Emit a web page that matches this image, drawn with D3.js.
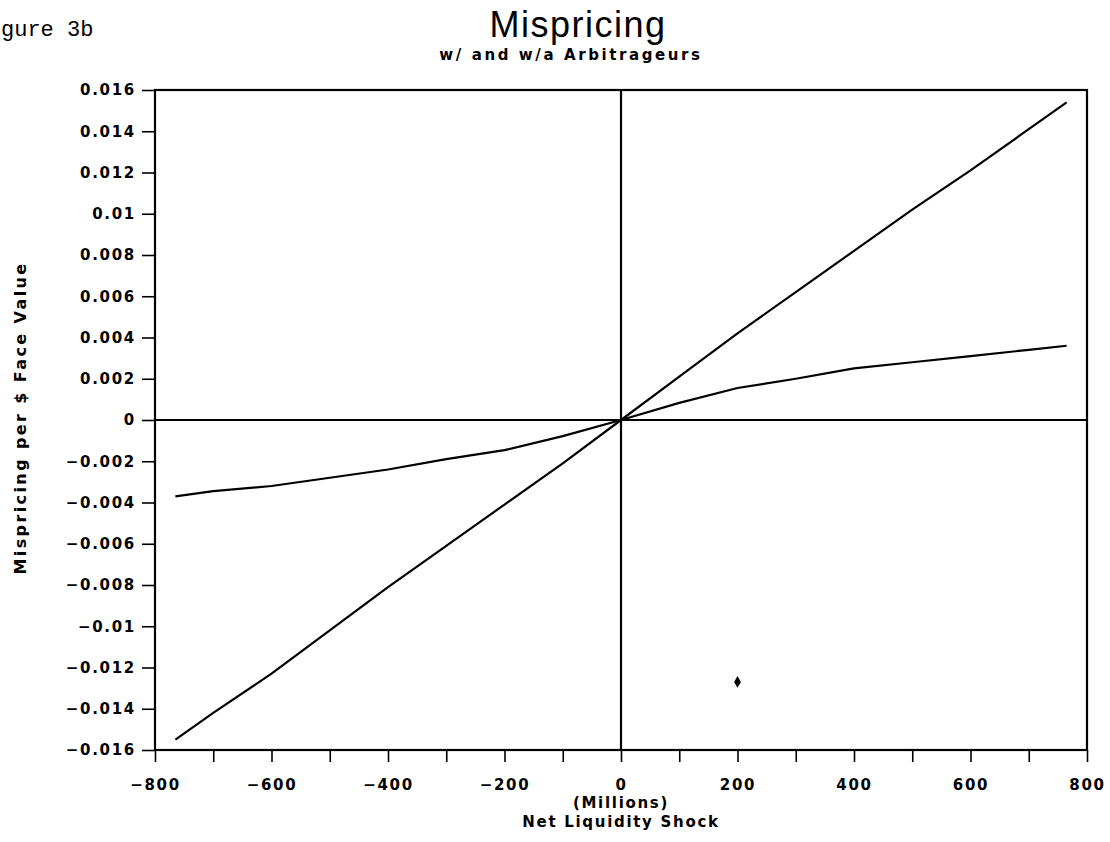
<!DOCTYPE html>
<html><head><meta charset="utf-8">
<script src="https://cdn.jsdelivr.net/npm/d3@7"></script>
<style>
body{margin:0;background:#fff;}
svg{display:block;}
.lbl{font-family:"DejaVu Sans",sans-serif;font-weight:bold;font-size:15px;letter-spacing:1.7px;fill:#000;}
</style></head><body>
<svg id="c" width="1110" height="842"></svg>
<script>
// ---- data ----
const shock = [-765,-700,-600,-500,-400,-300,-200,-100,0,100,200,300,400,500,600,700,765];
const withoutArb = [-0.0155,-0.0142,-0.0123,-0.0102,-0.0081,-0.0061,-0.0041,-0.0021,0,0.0021,0.0042,0.0062,0.0082,0.0102,0.0121,0.0141,0.0154];
const withArb = [-0.0037,-0.00345,-0.0032,-0.0028,-0.0024,-0.0019,-0.00146,-0.00078,0,0.00083,0.00155,0.002,0.0025,0.0028,0.0031,0.0034,0.0036];
const strayPoint = [{x:200, y:-0.0127}];
const xTicks = [-800,-700,-600,-500,-400,-300,-200,-100,0,100,200,300,400,500,600,700,800];
const xTickLabels = {"-800":"−800","-600":"−600","-400":"−400","-200":"−200","0":"0","200":"200","400":"400","600":"600","800":"800"};
const yTicks = [0.016,0.014,0.012,0.01,0.008,0.006,0.004,0.002,0,-0.002,-0.004,-0.006,-0.008,-0.01,-0.012,-0.014,-0.016];
const yTickLabels = ["0.016","0.014","0.012","0.01","0.008","0.006","0.004","0.002","0","−0.002","−0.004","−0.006","−0.008","−0.01","−0.012","−0.014","−0.016"];

const svg = d3.select("#c");
const L=155, R=1087, T=90, B=750;
const x = d3.scaleLinear().domain([-800,800]).range([L,R]);
const y = d3.scaleLinear().domain([-0.016,0.016]).range([B,T]);

// y axis
const ya = svg.append("g").attr("transform",`translate(${L},0)`)
  .call(d3.axisLeft(y).tickValues(yTicks).tickSize(13).tickPadding(6)
    .tickFormat((d,i)=>yTickLabels[i]));
ya.select(".domain").remove();
ya.selectAll(".tick line").attr("stroke","#000").attr("stroke-width",1.6);
ya.selectAll(".tick text").attr("class","lbl").attr("font-size",null).attr("font-family",null);

// x axis
const xa = svg.append("g").attr("transform",`translate(0,${B})`)
  .call(d3.axisBottom(x).tickValues(xTicks).tickSize(12).tickPadding(17)
    .tickFormat(d=>xTickLabels[String(d)]||""));
xa.select(".domain").remove();
xa.selectAll(".tick line").attr("stroke","#000").attr("stroke-width",1.6);
xa.selectAll(".tick text").attr("class","lbl").attr("font-size",null).attr("font-family",null);

// frame
svg.append("rect").attr("x",L).attr("y",T).attr("width",R-L).attr("height",B-T)
  .attr("fill","none").attr("stroke","#000").attr("stroke-width",2.2);
// zero lines
svg.append("line").attr("x1",L).attr("x2",R).attr("y1",y(0)).attr("y2",y(0)).attr("stroke","#000").attr("stroke-width",2.2);
svg.append("line").attr("x1",x(0)).attr("x2",x(0)).attr("y1",T).attr("y2",B).attr("stroke","#000").attr("stroke-width",2.2);

// lines
const line = d3.line().x((d,i)=>x(shock[i])).y(d=>y(d));
[withoutArb, withArb].forEach(s=>{
  svg.append("path").datum(s).attr("d",line).attr("fill","none")
    .attr("stroke","#000").attr("stroke-width",2.2).attr("stroke-linejoin","round");
});
// stray point
svg.selectAll(".pt").data(strayPoint).enter().append("path")
  .attr("transform",d=>`translate(${x(d.x)},${y(d.y)})`)
  .attr("d",d3.symbol(d3.symbolDiamond,40)).attr("fill","#000");

// texts
svg.append("text").attr("x",1).attr("y",36)
  .style("font-family","'Liberation Mono',monospace").style("font-size","22px").text("gure 3b");
svg.append("text").attr("x",578).attr("y",37).attr("text-anchor","middle")
  .style("font-family","'Liberation Sans',sans-serif").style("font-size","36px").style("letter-spacing","1.5px").text("Mispricing");
svg.append("text").attr("class","lbl").attr("x",571).attr("y",60).attr("text-anchor","middle")
  .style("font-size","15px").style("letter-spacing","2.6px").text("w/ and w/a Arbitrageurs");
svg.append("text").attr("class","lbl").attr("x",621).attr("y",808).attr("text-anchor","middle").text("(Millions)");
svg.append("text").attr("class","lbl").attr("x",621).attr("y",827).attr("text-anchor","middle").text("Net Liquidity Shock");
svg.append("text").attr("class","lbl").attr("transform","translate(26,418) rotate(-90)")
  .attr("text-anchor","middle").style("font-size","16px").style("letter-spacing","2.4px").text("Mispricing per $ Face Value");
</script>
</body></html>
